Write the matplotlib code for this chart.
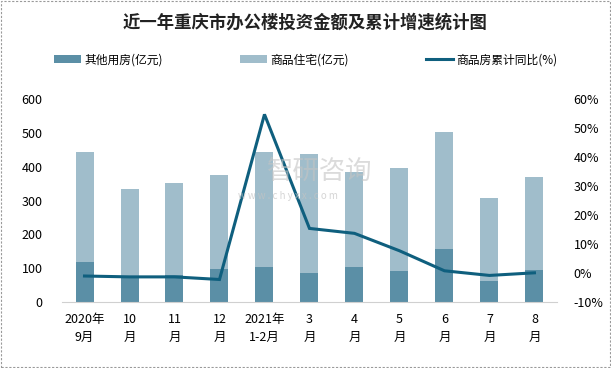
import matplotlib.pyplot as plt
from matplotlib.patches import Rectangle
import numpy as np

plt.rcParams['font.family'] = ['Noto Sans CJK SC', 'DejaVu Sans']

# data
months = ['2020年\n9月', '10\n月', '11\n月', '12\n月', '2021年\n1-2月',
          '3\n月', '4\n月', '5\n月', '6\n月', '7\n月', '8\n月']
other_use = [118, 76, 80, 97, 103, 85, 103, 91, 156, 61, 94]
housing = [326, 257, 271, 278, 341, 352, 281, 305, 346, 246, 275]
yoy_pct = [-1.0, -1.3, -1.3, -2.2, 54.7, 15.4, 13.7, 7.7, 0.8, -0.8, 0.1]

c_dark = '#5b8fa6'
c_light = '#a0bdcb'
c_line = '#0f5f7e'

fig = plt.figure(figsize=(6.11, 3.68), dpi=100)
ax = fig.add_axes([0.1015, 0.179, 0.81, 0.552])
ax2 = ax.twinx()

x = np.arange(len(months))
b1 = ax.bar(x, other_use, width=0.4, color=c_dark, label='其他用房(亿元)', zorder=2)
b2 = ax.bar(x, housing, width=0.4, bottom=other_use, color=c_light,
            label='商品住宅(亿元)', zorder=2)
l1, = ax2.plot(x, yoy_pct, color=c_line, lw=2.2, label='商品房累计同比(%)',
               solid_joinstyle='miter')

ax.set_xlim(-0.5, len(months) - 0.5)
ax.set_ylim(0, 600)
ax.set_yticks(range(0, 601, 100))
ax2.set_ylim(-10, 60)
ax2.set_yticks(range(-10, 61, 10))
ax2.set_yticklabels([f'{v}%' for v in range(-10, 61, 10)])

ax.set_xticks(x)
ax.set_xticklabels(months, fontsize=9, linespacing=1.5)

for a in (ax, ax2):
    for s in a.spines.values():
        s.set_visible(False)
    a.tick_params(length=0, labelsize=9)
ax.spines['bottom'].set_visible(True)
ax.spines['bottom'].set_color('#d0d0d0')
ax.tick_params(axis='x', pad=8)
ax.tick_params(axis='y', pad=14)
ax2.tick_params(axis='y', pad=12)

# faint watermark
fig.text(0.437, 0.535, '智研咨询', fontsize=19, color='#c4c4c4', alpha=0.6,
         ha='left', va='center', zorder=0)
fig.text(0.39, 0.468, 'w w w . c h y x x . c o m', fontsize=7, color='#c4c4c4',
         alpha=0.7, ha='left', va='center')

fig.text(0.5, 0.94, '近一年重庆市办公楼投资金额及累计增速统计图', ha='center',
         va='center', fontsize=12.5, fontweight='bold', color='#222222')

fig.legend(handles=[b1, b2, l1], loc='center', bbox_to_anchor=(0.5, 0.837),
           ncol=3, frameon=False, fontsize=8.5, columnspacing=6.5,
           handlelength=2.3, handletextpad=0.3)

fig.patches.append(Rectangle((0.002, 0.003), 0.996, 0.994, transform=fig.transFigure,
                             fill=False, edgecolor='#9a9a9a', lw=0.8, ls=(0, (2, 1.5))))

fig.savefig('out.png', dpi=100)
